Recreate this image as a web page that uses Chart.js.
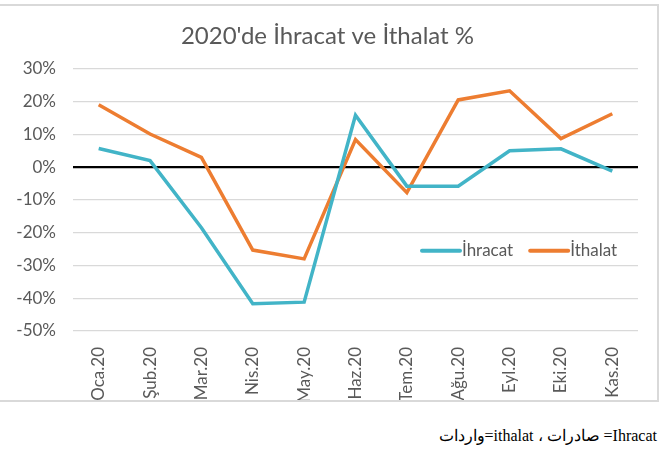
<!DOCTYPE html>
<html>
<head>
<meta charset="utf-8">
<script src="https://cdn.jsdelivr.net/npm/chart.js@4"></script>
<style>
  html, body { margin: 0; padding: 0; background: #fff; }
  body { width: 661px; height: 461px; position: relative; overflow: hidden; }
  #frame {
    position: absolute; left: -2px; top: 4px; width: 661px; height: 398px;
    border: 2px solid #d9d9d9; box-sizing: border-box;
  }
  #chart { position: absolute; left: 0; top: 0; }
  #note {
    position: absolute; right: 4px; top: 426px;
    font-family: "Liberation Serif", "DejaVu Serif", serif; font-size: 16px;
    color: #000; direction: rtl; white-space: nowrap;
  }
</style>
</head>
<body>
<div id="frame"></div>
<canvas id="chart" width="661" height="400"></canvas>
<div id="note" dir="rtl">Ihracat= صادرات ، ithalat=واردات</div>

<script>
// Data
const months = ["Oca.20", "Şub.20", "Mar.20", "Nis.20", "May.20", "Haz.20",
                "Tem.20", "Ağu.20", "Eyl.20", "Eki.20", "Kas.20"];
const ihracat = [5.7, 2.0, -18.5, -41.7, -41.2, 15.8, -5.8, -5.8, 5.0, 5.6, -1.2];
const ithalat = [19.0, 10.1, 3.0, -25.3, -28.0, 8.4, -7.8, 20.5, 23.3, 8.7, 16.3];
const yTicks = { min: -50, max: 30, step: 10 };

const colors = {
    ihracat: "#42b4c7",
    ithalat: "#ed7d31",
    text: "#595959",
    grid: "#d9d9d9"
};

// Legend sits inside the plot, to the right (like the Excel original)
const insideLegend = {
    id: "insideLegend",
    afterDraw(chart) {
        const ctx = chart.ctx;
        const area = chart.chartArea;
        const y = chart.scales.y.getPixelForValue(-25.5);
        let x = area.left + 349;
        ctx.save();
        ctx.font = "17px Lato";
        ctx.textBaseline = "middle";
        ctx.lineCap = "round";
        chart.data.datasets.forEach(ds => {
            ctx.strokeStyle = ds.borderColor;
            ctx.lineWidth = 4;
            ctx.beginPath();
            ctx.moveTo(x, y);
            ctx.lineTo(x + 38, y);
            ctx.stroke();
            ctx.fillStyle = colors.text;
            ctx.fillText(ds.label, x + 40, y);
            x += 40 + ctx.measureText(ds.label).width + 17;
        });
        ctx.restore();
    }
};

new Chart(document.getElementById("chart").getContext("2d"), {
    type: "line",
    data: {
        labels: months,
        datasets: [
            {
                label: "İhracat",
                data: ihracat,
                borderColor: colors.ihracat,
                borderWidth: 3.5,
                pointRadius: 0,
                tension: 0,
                fill: false
            },
            {
                label: "İthalat",
                data: ithalat,
                borderColor: colors.ithalat,
                borderWidth: 3.5,
                pointRadius: 0,
                tension: 0,
                fill: false
            }
        ]
    },
    options: {
        responsive: false,
        animation: false,
        layout: { padding: { left: 0, right: 6, top: 0, bottom: 0 } },
        scales: {
            x: {
                offset: true,
                grid: { display: false },
                border: { display: false },
                ticks: {
                    minRotation: 90,
                    maxRotation: 90,
                    padding: 8,
                    color: colors.text,
                    font: { family: "Lato", size: 17 }
                },
                afterFit: s => { s.height = 69; }
            },
            y: {
                min: yTicks.min,
                max: yTicks.max,
                border: { display: false },
                grid: {
                    drawTicks: false,
                    color: ctx => ctx.tick.value === 0 ? "#000" : colors.grid,
                    lineWidth: ctx => ctx.tick.value === 0 ? 2.2 : 1.3
                },
                ticks: {
                    stepSize: yTicks.step,
                    padding: 17,
                    color: colors.text,
                    font: { family: "Lato", size: 17 },
                    callback: v => v + "%"
                },
                afterFit: s => { s.width = 73; }
            },
            // empty spacer on the right so the title stays centred on the frame
            spacer: {
                type: "linear",
                position: "right",
                grid: { display: false },
                border: { display: false },
                ticks: { display: false },
                afterFit: s => { s.width = 17; }
            }
        },
        plugins: {
            legend: { display: false },
            tooltip: { enabled: false },
            title: {
                display: true,
                text: "2020'de İhracat ve İthalat %",
                color: colors.text,
                font: { family: "Lato", size: 24, weight: "normal" },
                padding: { top: 22, bottom: 18 }
            }
        }
    },
    plugins: [insideLegend]
});
</script>
</body>
</html>
